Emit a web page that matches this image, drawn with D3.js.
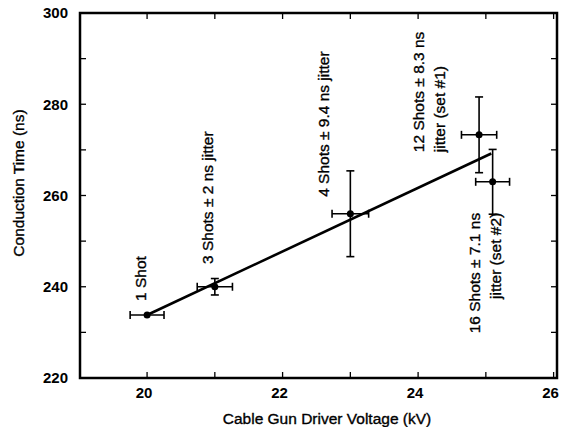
<!DOCTYPE html>
<html lang="en">
<head>
    <meta charset="utf-8">
    <title>Conduction Time vs Cable Gun Driver Voltage</title>
    <script src="https://d3js.org/d3.v7.min.js"></script>
    <style type="text/css">
        body {
            margin: 0;
            background: #fff;
        }
        svg {
            display: block;
            font-family: 'Liberation Sans', Arial, Helvetica, sans-serif;
        }
        .frame {
            fill: none;
            stroke: #000;
            stroke-width: 2.5;
        }
        .tick-mark {
            stroke: #000;
            stroke-width: 1.3;
        }
        .tick-label {
            font-size: 15px;
            font-weight: bold;
        }
        .note, .axis-title {
            font-size: 15.5px;
            stroke: #000;
            stroke-width: 0.35;
        }
    </style>
</head>

<body>
    <svg></svg>

    <script>
        // Messpunkte (kV, ns) mit Fehlerbalken
        var voltage = [20, 21, 23, 24.9, 25.1];
        var condTime = [233.8, 240, 256, 273.3, 263];
        var xErr = [0.25, 0.26, 0.27, 0.26, 0.25];
        var yErr = [0, 1.8, 9.4, 8.3, 7.1];

        // Ausgleichsgerade
        var fitX = [20, 25.08];
        var fitY = [233.8, 269.2];

        var xTickLabels = [20, 22, 24, 26];
        var xMinorTicks = [20, 21, 22, 23, 24, 25, 26];
        var yTickLabels = [220, 240, 260, 280, 300];
        var yMinorTicks = [220, 230, 240, 250, 260, 270, 280, 290, 300];

        // Beschriftungen: eine oder zwei Zeilen
        var notes = [
            { lines: ["1 Shot"], anchor: "start" },
            { lines: ["3 Shots \u00b1 2 ns jitter"], anchor: "start" },
            { lines: ["4 Shots \u00b1 9.4 ns jitter"], anchor: "start" },
            { lines: ["12 Shots \u00b1 8.3 ns", "jitter (set #1)"], anchor: "start" },
            { lines: ["16 Shots \u00b1 7.1 ns", "jitter (set #2)"], anchor: "end" }
        ];
        // Grundlinie der Beschriftungen in Datenkoordinaten (kV, ns)
        var noteX = [19.99, 20.98, 22.68, 24.09, 24.91];
        var noteY = [236.9, 245.0, 259.7, 269.5, 256.2];

        var W = 566, H = 427;

        var svg = d3.select("svg")
            .attr("width", W)
            .attr("height", H);

        var x = d3.scaleLinear().domain([19.01, 26.05]).range([80, 557]);
        var y = d3.scaleLinear().domain([220, 300]).range([378, 13]);

        var x0 = x.range()[0], x1 = x.range()[1];
        var y0 = y.range()[0], y1 = y.range()[1];

        // Tick-Striche (nach innen)
        var tl = 6;
        var ticks = svg.append("g");
        xMinorTicks.forEach(function (v) {
            ticks.append("line").attr("class", "tick-mark")
                .attr("x1", x(v)).attr("x2", x(v))
                .attr("y1", y0).attr("y2", y0 - tl);
            ticks.append("line").attr("class", "tick-mark")
                .attr("x1", x(v)).attr("x2", x(v))
                .attr("y1", y1).attr("y2", y1 + tl);
        });
        yMinorTicks.forEach(function (v) {
            ticks.append("line").attr("class", "tick-mark")
                .attr("x1", x0).attr("x2", x0 + tl)
                .attr("y1", y(v)).attr("y2", y(v));
            ticks.append("line").attr("class", "tick-mark")
                .attr("x1", x1).attr("x2", x1 - tl)
                .attr("y1", y(v)).attr("y2", y(v));
        });

        // Rahmen
        svg.append("rect")
            .attr("class", "frame")
            .attr("x", x0).attr("y", y1)
            .attr("width", x1 - x0).attr("height", y0 - y1);

        // Achsenbeschriftung
        svg.selectAll(".xlab")
            .data(xTickLabels)
            .enter().append("text")
            .attr("class", "tick-label")
            .attr("x", function (d) { return x(d) - 3; })
            .attr("y", 398)
            .attr("text-anchor", "middle")
            .text(function (d) { return d; });

        svg.selectAll(".ylab")
            .data(yTickLabels)
            .enter().append("text")
            .attr("class", "tick-label")
            .attr("x", 68)
            .attr("y", function (d) { return y(d); })
            .attr("dy", "0.36em")
            .attr("text-anchor", "end")
            .text(function (d) { return d; });

        svg.append("text")
            .attr("class", "axis-title")
            .attr("x", 327)
            .attr("y", 424)
            .attr("text-anchor", "middle")
            .text("Cable Gun Driver Voltage (kV)");

        svg.append("text")
            .attr("class", "axis-title")
            .attr("transform", "translate(24,183) rotate(-90)")
            .attr("text-anchor", "middle")
            .text("Conduction Time (ns)");

        // Ausgleichsgerade
        svg.append("line")
            .attr("x1", x(fitX[0])).attr("y1", y(fitY[0]))
            .attr("x2", x(fitX[1])).attr("y2", y(fitY[1]))
            .attr("stroke", "#000")
            .attr("stroke-width", 2.6);

        // Fehlerbalken
        var pts = voltage.map(function (v, i) {
            return { x: v, y: condTime[i], ex: xErr[i], ey: yErr[i] };
        });
        var cap = 4;
        var eb = svg.append("g").attr("stroke", "#000").attr("stroke-width", 1.6);
        pts.forEach(function (d) {
            eb.append("line")
                .attr("x1", x(d.x - d.ex)).attr("x2", x(d.x + d.ex))
                .attr("y1", y(d.y)).attr("y2", y(d.y));
            eb.append("line")
                .attr("x1", x(d.x - d.ex)).attr("x2", x(d.x - d.ex))
                .attr("y1", y(d.y) - cap).attr("y2", y(d.y) + cap);
            eb.append("line")
                .attr("x1", x(d.x + d.ex)).attr("x2", x(d.x + d.ex))
                .attr("y1", y(d.y) - cap).attr("y2", y(d.y) + cap);
            if (d.ey > 0) {
                eb.append("line")
                    .attr("x1", x(d.x)).attr("x2", x(d.x))
                    .attr("y1", y(d.y - d.ey)).attr("y2", y(d.y + d.ey));
                eb.append("line")
                    .attr("x1", x(d.x) - cap).attr("x2", x(d.x) + cap)
                    .attr("y1", y(d.y - d.ey)).attr("y2", y(d.y - d.ey));
                eb.append("line")
                    .attr("x1", x(d.x) - cap).attr("x2", x(d.x) + cap)
                    .attr("y1", y(d.y + d.ey)).attr("y2", y(d.y + d.ey));
            }
        });

        svg.selectAll(".dot")
            .data(pts)
            .enter().append("circle")
            .attr("cx", function (d) { return x(d.x); })
            .attr("cy", function (d) { return y(d.y); })
            .attr("r", 3.5)
            .attr("fill", "#000");

        // Beschriftungen (gedreht)
        notes.forEach(function (n, i) {
            var px = x(noteX[i]), py = y(noteY[i]);
            var t = svg.append("text")
                .attr("class", "note")
                .attr("text-anchor", n.anchor)
                .attr("transform", "translate(" + px + "," + py + ") rotate(-90)");
            n.lines.forEach(function (s, j) {
                t.append("tspan")
                    .attr("x", 0)
                    .attr("y", j * 21)
                    .text(s);
            });
        });
    </script>
</body>
</html>
